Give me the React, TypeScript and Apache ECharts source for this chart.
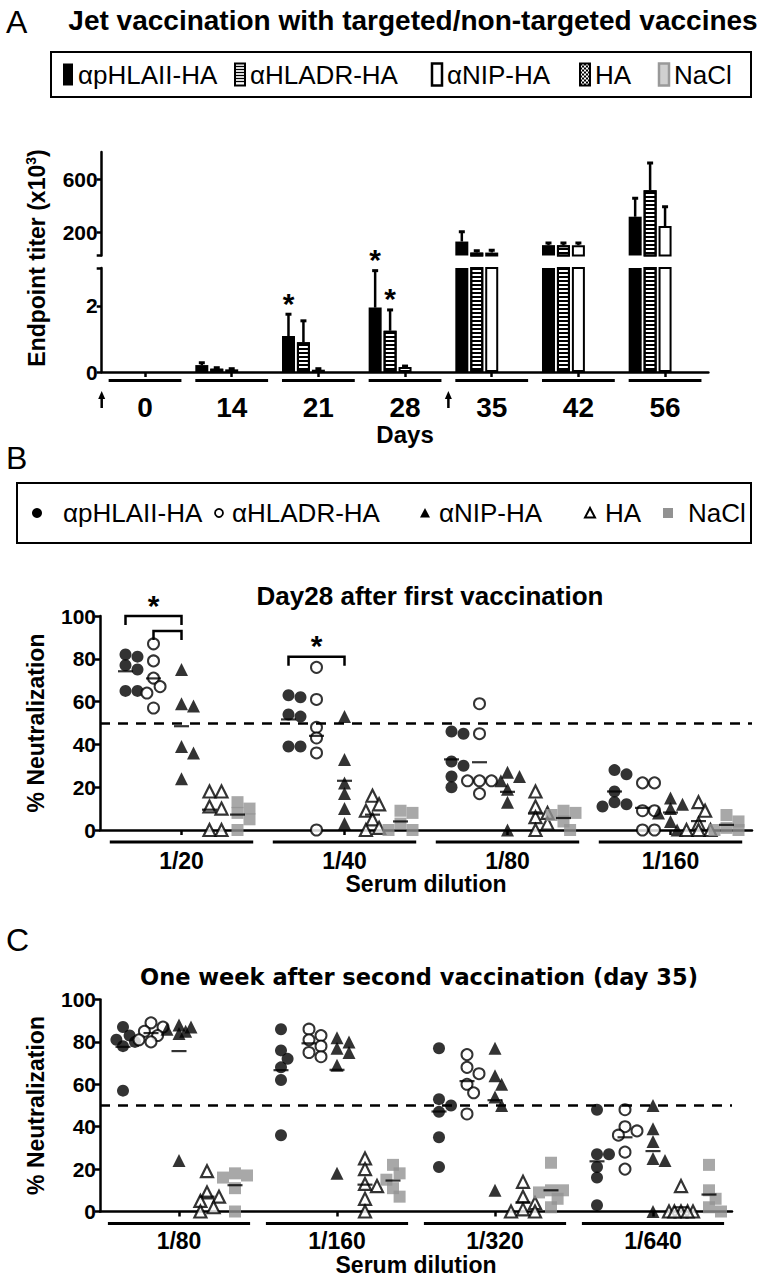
import React, { useEffect, useRef } from "react";
import * as echarts from "echarts";

const SANS = "'Liberation Sans', Arial, Helvetica, sans-serif";
const DEJAVU = "'DejaVu Sans', Verdana, sans-serif";

// ---------------- Panel A: endpoint titers (x10^3) ----------------
const days = ["0", "14", "21", "28", "35", "42", "56"];
const groupNames = ["αpHLAII-HA", "αHLADR-HA", "αNIP-HA", "HA", "NaCl"];
const titerPHLAII = [0, 0.21, 1.09, 1.95, 133, 106, 320];
const titerHLADR = [0, 0.1, 0.9, 1.25, 50, 106, 520];
const titerNIP = [0, 0.08, 0.07, 0.15, 50, 106, 250];
const titerHA = [0, 0, 0, 0, 0, 0, 0];
const titerNaCl = [0, 0, 0, 0, 0, 0, 0];
// top of the error bars (mean + SEM)
const titerPHLAIITop = [0, 0.28, 1.75, 3.07, 207, 122, 458];
const titerHLADRTop = [0, 0.13, 1.55, 1.88, 63, 122, 724];
const titerNIPTop = [0, 0.1, 0.1, 0.18, 68, 122, 395];
const titerUpperRange = [28, 807];
const titerLowerRange = [0, 3.15];
const titerTicksUpper = [200, 600];
const titerTicksLower = [0, 2];
const titerSignificant = [[2, 0], [3, 0], [3, 1]]; // [day index, group index]
const vaccinationMarks = [-0.5, 3.5]; // in category units

// ---------------- Panel B: % neutralization, day 28 ----------------
const dilutionsB = ["1/20", "1/40", "1/80", "1/160"];
const neutB_pHLAII = [[82, 81, 77, 75, 65, 65], [62, 63, 54, 53, 39, 39], [45, 46, 32, 30, 25, 20], [28, 26, 18, 13, 12, 11]];
const neutB_HLADR = [[87, 79, 71, 67, 64, 57], [76, 61, 48, 43, 36, 0], [59, 45, 23, 23, 23, 17], [22, 22, 9, 9, 0, 0]];
const neutB_NIP = [[75, 59, 58, 39, 36, 24], [53, 33, 22, 17, 10, 3], [27, 25, 23, 19, 13, 0], [15, 12, 10, 8, 4, 0]];
const neutB_HA = [[18, 18, 11, 10, 0, 0], [16, 12, 9, 5, 1, 0], [18, 11, 8, 6, 3, 0], [13, 9, 3, 0, 0, 0]];
const neutB_NaCl = [[13, 10, 8, 5, 0], [9, 8, 3, 0, 0], [9, 8, 7, 4, 0], [7, 4, 1, 0, 0]];
const bracketsB = [[0, 0, 2, 100], [0, 1, 2, 93], [1, 0, 2, 81]]; // [dilution, from group, to group, level]
const starsB = [[0, 100], [1, 81]]; // [dilution, level of the bracket]

// ---------------- Panel C: % neutralization, day 35 ----------------
const dilutionsC = ["1/80", "1/160", "1/320", "1/640"];
const neutC_pHLAII = [[87, 83, 81, 80, 78, 57], [86, 76, 72, 68, 62, 36], [77, 53, 50, 47, 35, 21], [48, 27, 27, 21, 16, 3]];
const neutC_HLADR = [[89, 87, 85, 83, 81, 80], [86, 83, 81, 78, 75, 73], [74, 68, 65, 60, 56, 46], [48, 40, 38, 36, 28, 20]];
const neutC_NIP = [[88, 87, 86, 85, 84, 24], [82, 80, 77, 75, 69, 18], [77, 64, 60, 54, 50, 10], [50, 39, 33, 25, 24, 0]];
const neutC_HA = [[19, 9, 7, 5, 2, 0], [25, 20, 13, 12, 6, 0], [14, 7, 4, 1, 0, 0], [12, 0, 0, 0, 0, 0]];
const neutC_NaCl = [[18, 17, 16, 11, 0], [22, 18, 15, 11, 7], [23, 10, 10, 9, 6, 2], [22, 10, 6, 2, 0]];
const neutThreshold = 50;
const neutTicks = [0, 100, 20]; // min, max, interval

// ---------------- layout helpers ----------------
const BLACK = "#000";
const GRAY = "#929292";

function swarm(vals: number[], pxPerUnit: number, size: number): number[] {
  const order = vals.map((_, i) => i).sort((a, b) => vals[b] - vals[a]);
  const xs = new Array(vals.length).fill(0);
  const placed: { x: number; y: number }[] = [];
  const cands = [0, 0.55, -0.55, 1.0, -1.0].map((k) => k * size);
  for (const i of order) {
    const y = vals[i] * pxPerUnit;
    let best = 0;
    let bestD = -1;
    let chosen: number | null = null;
    for (const c of cands) {
      const d = placed.length ? Math.min(...placed.map((p) => Math.hypot(p.x - c, p.y - y))) : 1e9;
      if (d >= size * 0.8) { chosen = c; break; }
      if (d > bestD) { bestD = d; best = c; }
    }
    const x = chosen === null ? best : chosen;
    xs[i] = x;
    placed.push({ x, y });
  }
  return xs;
}

function points(byDil: number[][], g: number, step: number, pxPerCat: number, pxPerUnit: number) {
  const out: number[][] = [];
  byDil.forEach((vals, d) => {
    const offs = swarm(vals, pxPerUnit, 12);
    vals.forEach((v, i) => out.push([d + (g - 2) * step + offs[i] / pxPerCat, v]));
  });
  return out;
}

function means(groups: number[][][], step: number) {
  const out: number[][] = [];
  groups.forEach((byDil, g) => {
    byDil.forEach((vals, d) => {
      const m = vals.reduce((a, b) => a + b, 0) / vals.length;
      out.push([d + (g - 2) * step, m]);
    });
  });
  return out;
}

function buildOption() {
  const titerMeans = [titerPHLAII, titerHLADR, titerNIP, titerHA, titerNaCl];
  const titerTops = [titerPHLAIITop, titerHLADRTop, titerNIPTop];
  const barW = 13;
  const barGapRatio = 0.15;
  const pitch = barW * (1 + barGapRatio);

  const barStyles: any[] = [
    { color: BLACK },
    {
      color: "#fff", borderColor: BLACK, borderWidth: 2,
      decal: { symbol: "rect", symbolSize: 1, dashArrayX: [[10, 0]], dashArrayY: [1.3, 1.7], color: BLACK, backgroundColor: "#fff", rotation: 0 },
    },
    { color: "#fff", borderColor: BLACK, borderWidth: 2 },
    { color: "#fff", borderColor: BLACK, borderWidth: 2 },
    { color: "#c8c8c8", borderColor: "#999", borderWidth: 2 },
  ];

  const errData: number[][] = [];
  titerTops.forEach((tops, g) => tops.forEach((t, c) => {
    if (t > titerMeans[g][c]) errData.push([c, titerMeans[g][c], t, g]);
  }));

  const errRender = (params: any, api: any) => {
    const c = api.value(0), m = api.value(1), t = api.value(2), g = api.value(3);
    const base = api.coord([c, m]);
    const top = api.coord([c, t]);
    const x = base[0] + (g - 2) * pitch;
    return {
      type: "group",
      children: [
        { type: "line", shape: { x1: x, y1: base[1], x2: x, y2: top[1] }, style: { stroke: BLACK, lineWidth: 2.5 } },
        { type: "line", shape: { x1: x - 3, y1: top[1], x2: x + 3, y2: top[1] }, style: { stroke: BLACK, lineWidth: 3 } },
      ],
    };
  };

  const underlineRender = (frac: number, drop: number) => (params: any, api: any) => {
    const p = api.coord([api.value(0), 0]);
    const band = api.size([1, 0])[0];
    return {
      type: "line",
      shape: { x1: p[0] - (band * frac) / 2, y1: p[1] + drop, x2: p[0] + (band * frac) / 2, y2: p[1] + drop },
      style: { stroke: BLACK, lineWidth: 3 },
    };
  };

  const groupsB = [neutB_pHLAII, neutB_HLADR, neutB_NIP, neutB_HA, neutB_NaCl];
  const groupsC = [neutC_pHLAII, neutC_HLADR, neutC_NIP, neutC_HA, neutC_NaCl];
  const stepB = 28 / 163;
  const stepC = 28 / 158;

  const markerStyles: any[] = [
    { symbol: "circle", symbolSize: 12, itemStyle: { color: BLACK } },
    { symbol: "circle", symbolSize: 11, itemStyle: { color: "#fff", borderColor: BLACK, borderWidth: 2 } },
    { symbol: "triangle", symbolSize: 13, itemStyle: { color: BLACK } },
    { symbol: "triangle", symbolSize: 12, itemStyle: { color: "#fff", borderColor: BLACK, borderWidth: 2.2 } },
    { symbol: "rect", symbolSize: 12, itemStyle: { color: GRAY } },
  ];

  const dashed = {
    silent: true,
    symbol: ["none", "none"],
    label: { show: false },
    lineStyle: { color: BLACK, width: 2.5, type: [10, 8] },
    data: [{ yAxis: neutThreshold }],
  };

  const scatterSeries = (groups: number[][][], step: number, pxPerCat: number, pxPerUnit: number, xIdx: number, yIdx: number) => {
    const s: any[] = groups.map((byDil, g) => ({
      type: "scatter",
      name: groupNames[g],
      xAxisIndex: xIdx,
      yAxisIndex: yIdx,
      data: points(byDil, g, step, pxPerCat, pxPerUnit),
      symbol: markerStyles[g].symbol,
      symbolSize: markerStyles[g].symbolSize,
      itemStyle: markerStyles[g].itemStyle,
      z: 3,
      ...(g === 0 ? { markLine: dashed } : {}),
    }));
    s.push({
      type: "scatter",
      name: "mean",
      xAxisIndex: xIdx,
      yAxisIndex: yIdx,
      data: means(groups, step),
      symbol: "rect",
      symbolSize: [15, 2.2],
      itemStyle: { color: BLACK },
      z: 5,
    });
    return s;
  };

  const axisLine = { show: true, onZero: false, lineStyle: { color: BLACK, width: 2.5 } };
  const axisTickY = { show: true, length: 5, lineStyle: { color: BLACK, width: 2.5 } };
  const yLabel = { color: BLACK, fontSize: 21, fontWeight: "bold", fontFamily: SANS, margin: 4 };

  // ---------- graphic: panel letters, legends, y name of panel A ----------
  const graphics: any[] = [];
  const letter = (t: string, x: number, y: number) => graphics.push({
    type: "text", x, y, style: { text: t, fontSize: 32, fontFamily: SANS, fill: BLACK, textVerticalAlign: "middle" },
  });
  letter("A", 6, 22);
  letter("B", 6, 458);
  letter("C", 6, 940);

  // legend A
  const legA = { x: 51, y: 52, w: 700, h: 45 };
  graphics.push({ type: "rect", shape: { x: legA.x, y: legA.y, width: legA.w, height: legA.h }, style: { fill: "none", stroke: BLACK, lineWidth: 2 } });
  const legAIcon = [63, 235, 432, 580, 659];
  const cyA = legA.y + legA.h / 2;
  legAIcon.forEach((ix, g) => {
    const ih = 22, iw = 10, iy = cyA - ih / 2;
    if (g === 0) graphics.push({ type: "rect", shape: { x: ix, y: iy, width: iw, height: ih }, style: { fill: BLACK } });
    if (g === 1) {
      graphics.push({ type: "rect", shape: { x: ix, y: iy, width: iw, height: ih }, style: { fill: "#fff", stroke: BLACK, lineWidth: 2 } });
      for (let yy = iy + 3; yy < iy + ih - 1; yy += 3) {
        graphics.push({ type: "line", shape: { x1: ix, y1: yy, x2: ix + iw, y2: yy }, style: { stroke: BLACK, lineWidth: 1.3 } });
      }
    }
    if (g === 2) graphics.push({ type: "rect", shape: { x: ix, y: iy, width: iw, height: ih }, style: { fill: "#fff", stroke: BLACK, lineWidth: 2.5 } });
    if (g === 3) {
      graphics.push({ type: "rect", shape: { x: ix, y: iy, width: iw, height: ih }, style: { fill: "#fff", stroke: BLACK, lineWidth: 2 } });
      for (let r = 0; r < ih / 2; r++) for (let q = 0; q < iw / 2; q++) {
        if ((r + q) % 2 === 0) graphics.push({ type: "rect", shape: { x: ix + q * 2, y: iy + r * 2, width: 2, height: 2 }, style: { fill: BLACK } });
      }
    }
    if (g === 4) graphics.push({ type: "rect", shape: { x: ix, y: iy, width: iw, height: ih }, style: { fill: "#d0d0d0", stroke: "#999", lineWidth: 2.5 } });
    graphics.push({ type: "text", x: ix + iw + 5, y: cyA, style: { text: groupNames[g], fontSize: 26, fontFamily: SANS, fill: BLACK, textVerticalAlign: "middle" } });
  });

  // legend B
  const legB = { x: 17, y: 483, w: 734, h: 60 };
  graphics.push({ type: "rect", shape: { x: legB.x, y: legB.y, width: legB.w, height: legB.h }, style: { fill: "none", stroke: BLACK, lineWidth: 2 } });
  const cyB = legB.y + legB.h / 2;
  const legBIcon = [37, 219, 425, 590, 668];
  const legBText = [63, 232, 439, 605, 688];
  legBIcon.forEach((ix, g) => {
    if (g === 0) graphics.push({ type: "circle", shape: { cx: ix, cy: cyB, r: 5 }, style: { fill: BLACK } });
    if (g === 1) graphics.push({ type: "circle", shape: { cx: ix, cy: cyB, r: 4 }, style: { fill: "#fff", stroke: BLACK, lineWidth: 1.8 } });
    if (g === 2) graphics.push({ type: "polygon", shape: { points: [[ix - 5, cyB + 4.5], [ix + 5, cyB + 4.5], [ix, cyB - 5]] }, style: { fill: BLACK } });
    if (g === 3) graphics.push({ type: "polygon", shape: { points: [[ix - 5, cyB + 4.5], [ix + 5, cyB + 4.5], [ix, cyB - 5]] }, style: { fill: "#fff", stroke: BLACK, lineWidth: 2 } });
    if (g === 4) graphics.push({ type: "rect", shape: { x: ix - 5, y: cyB - 5, width: 10, height: 10 }, style: { fill: GRAY } });
    graphics.push({ type: "text", x: legBText[g], y: cyB, style: { text: groupNames[g], fontSize: 26, fontFamily: SANS, fill: BLACK, textVerticalAlign: "middle" } });
  });

  // y axis name of panel A (spans both halves of the broken axis)
  graphics.push({
    type: "text", x: 37, y: 258, rotation: Math.PI / 2,
    style: {
      text: "{a|Endpoint titer (x10}{s|3}{a|)}",
      textAlign: "center", textVerticalAlign: "middle",
      rich: {
        a: { fontSize: 23, fontWeight: "bold", fontFamily: SANS, fill: BLACK, lineHeight: 26 },
        s: { fontSize: 14, fontWeight: "bold", fontFamily: SANS, fill: BLACK, verticalAlign: "top", lineHeight: 26 },
      },
    },
  });

  const series: any[] = [];
  // bars, lower (0..3.15) and upper (28..807) halves of the broken axis; zero titers draw no bar
  [1, 0].forEach((gi) => {
    titerMeans.forEach((vals, g) => series.push({
      type: "bar", name: groupNames[g], xAxisIndex: gi, yAxisIndex: gi,
      data: vals.map((v) => (v > 0 ? v : null)),
      barWidth: barW, barGap: `${barGapRatio * 100}%`, itemStyle: barStyles[g], clip: true,
    }));
    series.push({ type: "custom", name: "error", xAxisIndex: gi, yAxisIndex: gi, data: errData, renderItem: errRender, clip: true, z: 4 });
  });
  series.push({
    type: "custom", name: "significance", xAxisIndex: 1, yAxisIndex: 1,
    data: titerSignificant.map(([c, g]) => [c, titerTops[g][c], g]),
    renderItem: (params: any, api: any) => {
      const p = api.coord([api.value(0), api.value(1)]);
      const x = p[0] + (api.value(2) - 2) * pitch;
      return { type: "text", x, y: p[1] - 26, style: { text: "*", fontSize: 30, fontWeight: "bold", fontFamily: SANS, fill: BLACK, textAlign: "center", textVerticalAlign: "top" } };
    },
    z: 6,
  });
  series.push({ type: "custom", name: "group lines", xAxisIndex: 1, yAxisIndex: 1, data: days.map((_, i) => [i, 0]), renderItem: underlineRender(0.84, 8.5), z: 2 });
  series.push({
    type: "custom", name: "vaccination", xAxisIndex: 1, yAxisIndex: 1, data: vaccinationMarks.map((m) => [0, m]),
    renderItem: (params: any, api: any) => {
      const p0 = api.coord([0, 0]);
      const band = api.size([1, 0])[0];
      const x = p0[0] + api.value(1) * band;
      const y = p0[1];
      return {
        type: "group",
        children: [
          { type: "line", shape: { x1: x, y1: y + 26, x2: x, y2: y + 36 }, style: { stroke: BLACK, lineWidth: 2.5 } },
          { type: "polygon", shape: { points: [[x - 3.5, y + 27], [x + 3.5, y + 27], [x, y + 19]] }, style: { fill: BLACK } },
        ],
      };
    },
  });

  // panel B
  series.push(...scatterSeries(groupsB, stepB, 163, 2.14, 3, 2));
  series.push({ type: "custom", name: "group lines B", xAxisIndex: 2, yAxisIndex: 2, data: dilutionsB.map((_, i) => [i, 0]), renderItem: underlineRender(0.88, 12), z: 2 });
  series.push({
    type: "custom", name: "brackets B", xAxisIndex: 3, yAxisIndex: 2, data: bracketsB,
    renderItem: (params: any, api: any) => {
      const d = api.value(0), a = api.value(1), b = api.value(2), lv = api.value(3);
      const p1 = api.coord([d + (a - 2) * stepB, lv]);
      const p2 = api.coord([d + (b - 2) * stepB, lv]);
      return { type: "polyline", shape: { points: [[p1[0], p1[1] + 9], [p1[0], p1[1]], [p2[0], p2[1]], [p2[0], p2[1] + 9]] }, style: { stroke: BLACK, lineWidth: 2.5, fill: "none" } };
    },
    z: 6,
  });
  series.push({
    type: "custom", name: "stars B", xAxisIndex: 3, yAxisIndex: 2, data: starsB,
    renderItem: (params: any, api: any) => {
      const p = api.coord([api.value(0) + (1 - 2) * stepB, api.value(1)]);
      return { type: "text", x: p[0], y: p[1] - 26, style: { text: "*", fontSize: 30, fontWeight: "bold", fontFamily: SANS, fill: BLACK, textAlign: "center", textVerticalAlign: "top" } };
    },
    z: 6,
  });

  // panel C
  series.push(...scatterSeries(groupsC, stepC, 158, 2.12, 5, 3));
  series.push({ type: "custom", name: "group lines C", xAxisIndex: 4, yAxisIndex: 3, data: dilutionsC.map((_, i) => [i, 0]), renderItem: underlineRender(0.9, 12), z: 2 });

  const catAxis = (gridIndex: number, data: string[], fontSize: number, margin: number, name: string, nameGap: number, nameSize: number) => ({
    type: "category", gridIndex, data,
    axisLine: axisLine,
    axisTick: { show: true, alignWithLabel: true, length: 5, lineStyle: { color: BLACK, width: 2.5 } },
    axisLabel: { color: BLACK, fontSize, fontWeight: "bold", fontFamily: SANS, margin },
    splitLine: { show: false },
    name, nameLocation: "middle", nameGap,
    nameTextStyle: { color: BLACK, fontSize: nameSize, fontWeight: "bold", fontFamily: SANS },
  });
  const hiddenValueX = (gridIndex: number) => ({ type: "value", gridIndex, min: -0.5, max: 3.5, show: false });
  const neutY = (gridIndex: number) => ({
    type: "value", gridIndex, min: neutTicks[0], max: neutTicks[1], interval: neutTicks[2],
    axisLine, axisTick: axisTickY, axisLabel: yLabel, splitLine: { show: false },
    name: "% Neutralization", nameLocation: "middle", nameGap: 53, nameRotate: 90,
    nameTextStyle: { color: BLACK, fontSize: 23, fontWeight: "bold", fontFamily: SANS },
  });

  return {
    animation: false,
    backgroundColor: "#fff",
    textStyle: { fontFamily: SANS },
    title: [
      { text: "Jet vaccination with targeted/non-targeted vaccines", left: 408, top: 1, textAlign: "center", textStyle: { fontSize: 28, fontWeight: "bold", fontFamily: SANS, color: BLACK } },
      { text: "Day28 after first vaccination", left: 425, top: 578, textAlign: "center", textStyle: { fontSize: 26, fontWeight: "bold", fontFamily: SANS, color: BLACK } },
      { text: "One week after second vaccination (day 35)", left: 414, top: 960, textAlign: "center", textStyle: { fontSize: 22.5, fontWeight: "bold", fontFamily: DEJAVU, color: BLACK } },
    ],
    grid: [
      { left: 101.7, top: 152, width: 606.7, height: 103.5 },
      { left: 101.7, top: 268, width: 606.7, height: 104 },
      { left: 100, top: 616, width: 652, height: 214 },
      { left: 100, top: 999.5, width: 632, height: 212 },
    ],
    xAxis: [
      { type: "category", gridIndex: 0, data: days, show: false },
      catAxis(1, days, 28, 21, "Days", 50, 24),
      catAxis(2, dilutionsB, 23, 19, "Serum dilution", 40, 23),
      hiddenValueX(2),
      catAxis(3, dilutionsC, 23, 18, "Serum dilution", 40, 23),
      hiddenValueX(3),
    ],
    yAxis: [
      {
        type: "value", gridIndex: 0, min: titerUpperRange[0], max: titerUpperRange[1],
        axisLine, axisTick: { ...axisTickY, customValues: [titerUpperRange[0], ...titerTicksUpper] },
        axisLabel: { ...yLabel, customValues: titerTicksUpper }, splitLine: { show: false },
      },
      {
        type: "value", gridIndex: 1, min: titerLowerRange[0], max: titerLowerRange[1],
        axisLine, axisTick: { ...axisTickY, customValues: [...titerTicksLower, titerLowerRange[1]] },
        axisLabel: { ...yLabel, customValues: titerTicksLower }, splitLine: { show: false },
      },
      neutY(2),
      neutY(3),
    ],
    graphic: graphics,
    series,
  };
}

export default function App() {
  const ref = useRef<HTMLDivElement>(null);
  useEffect(() => {
    const chart = echarts.init(ref.current!, null, { renderer: "svg", width: 761, height: 1280 });
    chart.setOption(buildOption() as any);
    return () => chart.dispose();
  }, []);
  return <div ref={ref} style={{ position: "absolute", left: 0, top: 0, width: 761, height: 1280, background: "#fff" }} />;
}
